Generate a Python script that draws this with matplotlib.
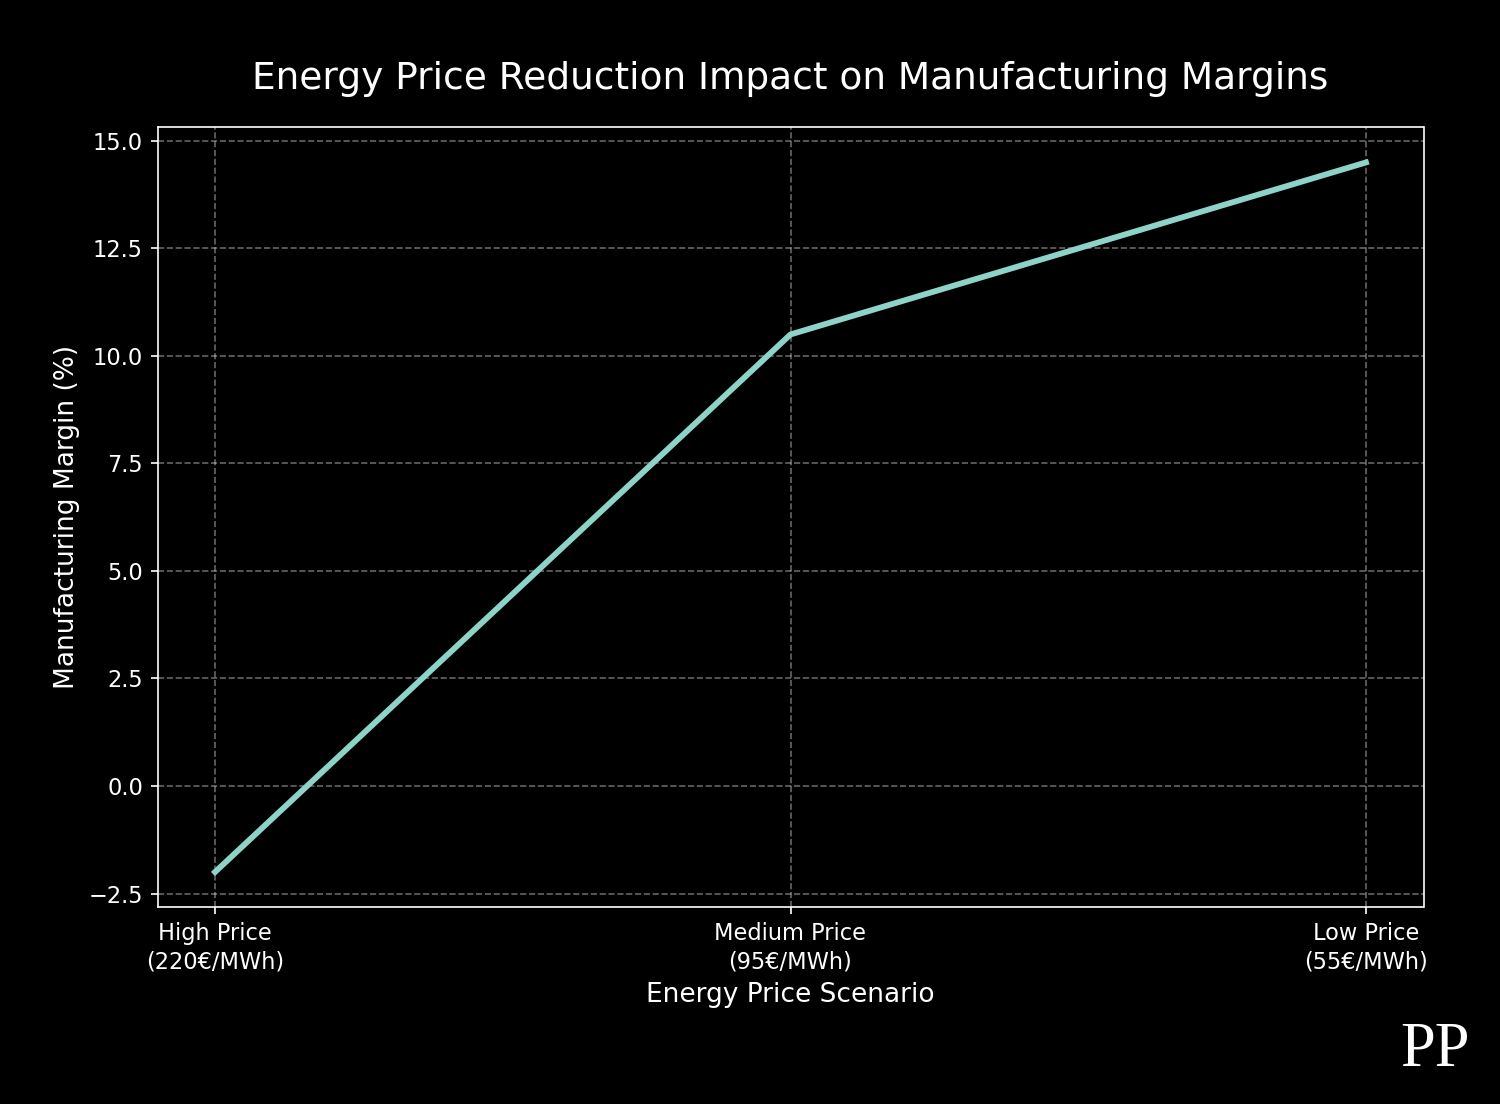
import matplotlib
matplotlib.use('Agg')
import matplotlib.pyplot as plt

plt.style.use('dark_background')

scenarios = ['High Price\n(220€/MWh)', 'Medium Price\n(95€/MWh)', 'Low Price\n(55€/MWh)']
margins = [-2.0, 10.5, 14.5]

fig, ax = plt.subplots(figsize=(10, 7.36), dpi=150)
fig.subplots_adjust(left=0.105, right=0.949, top=0.885, bottom=0.178)

ax.plot(scenarios, margins, color='#8dd3c7', linewidth=2.8)
ax.set_title('Energy Price Reduction Impact on Manufacturing Margins', fontsize=18, pad=18)
ax.set_xlabel('Energy Price Scenario', fontsize=12.7)
ax.set_ylabel('Manufacturing Margin (%)', fontsize=12.7)
ax.set_yticks([-2.5, 0.0, 2.5, 5.0, 7.5, 10.0, 12.5, 15.0])
ax.tick_params(labelsize=10.8)
for lbl in ax.get_xticklabels():
    lbl.set_linespacing(1.3)
ax.grid(True, linestyle='--', alpha=0.4)

# watermark
fig.text(0.98, 0.022, 'PP', fontsize=30, family='Liberation Serif', ha='right', va='bottom',
         color='white', fontweight='light')

fig.savefig('out.png', dpi=150)
